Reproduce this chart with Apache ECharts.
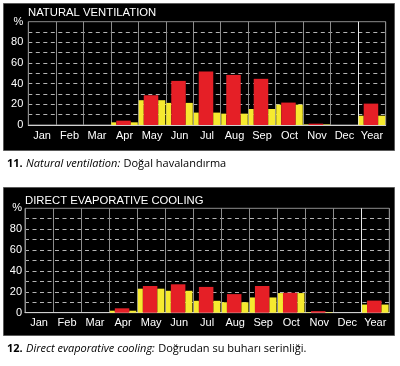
<!DOCTYPE html>
<html><head><meta charset="utf-8">
<script src="https://cdn.jsdelivr.net/npm/echarts@6/dist/echarts.min.js"></script>
<style>html,body{margin:0;padding:0;background:#fff}#c{width:400px;height:366px}</style>
</head><body><div id="c"></div>
<script>
const months = ['Jan','Feb','Mar','Apr','May','Jun','Jul','Aug','Sep','Oct','Nov','Dec','Year'];
const yTickLabels = {0:'0',20:'20',40:'40',60:'60',80:'80',100:'%'};

const nvYellowLeft  = [0,0,0,2.6,24,21.4,12,11,15.5,19.7,0.5,0,9];
const nvRed         = [0,0,0,4.2,28.8,42.7,51.8,48.5,44.7,21.7,1.3,0,20.7];
const nvYellowRight = [0,0,0,2.6,24,21.4,12,11,15.5,19.7,0.5,0,9];

const decYellowLeft  = [0,0,0,1.9,23,21,11.4,10,14.6,18.8,0.5,0,7.8];
const decRed         = [0,0,0,4.2,25.6,27.2,24.7,17.8,25.6,19.1,1.5,0,11.6];
const decYellowRight = [0,0,0,1.9,23,21,11.4,10,14.6,18.8,0.5,0,7.8];

const titles = ['NATURAL VENTILATION','DIRECT EVAPORATIVE COOLING'];

const RED = '#e51f26', YEL = '#f6ea2f';
const vColors = []; for (let i=0;i<14;i++) vColors.push(i===12 ? '#e8e8e8' : '#8c8c8c');

function xAx(g){
  return {type:'category', gridIndex:g, data:months, boundaryGap:true,
    axisLine:{show:true, lineStyle:{color:'#d0d0d0', width:1}},
    axisTick:{show:false},
    axisLabel:{color:'#fff', fontSize:11, fontFamily:'Liberation Sans, Arial, sans-serif', margin:5, interval:0},
    splitLine:{show:true, interval:0, lineStyle:{color:vColors, width:1}}};
}
function yAx(g, margin){
  return {type:'value', gridIndex:g, min:0, max:100, interval:10,
    axisLine:{show:false}, axisTick:{show:false},
    axisLabel:{color:'#fff', fontSize:11, fontFamily:'Liberation Sans, Arial, sans-serif', margin:margin,
      formatter:v => (yTickLabels[v] !== undefined ? yTickLabels[v] : '')},
    splitLine:{show:true, showMinLine:false, showMaxLine:false, lineStyle:{color:'#b4b4b4', type:[4,3.5], width:1}}};
}
function bars(g, yl, r, yr){
  return [
    {type:'bar', xAxisIndex:g, yAxisIndex:g, data:yl, barWidth:5, barGap:'0%', itemStyle:{color:YEL}, silent:true},
    {type:'bar', xAxisIndex:g, yAxisIndex:g, data:r, barWidth:14.5, barGap:'0%', itemStyle:{color:RED}, silent:true},
    {type:'bar', xAxisIndex:g, yAxisIndex:g, data:yr, barWidth:7, barGap:'0%', itemStyle:{color:YEL}, silent:true}
  ];
}
const capFont = '"Open Sans", "Noto Sans", sans-serif';
const rich = {
  b:{fontWeight:'bold', fontSize:11, fontFamily:capFont, color:'#231f20'},
  i:{fontStyle:'italic', fontSize:11, fontFamily:capFont, color:'#231f20'},
  n:{fontSize:11, fontFamily:capFont, color:'#231f20'}
};

const chart = echarts.init(document.getElementById('c'), null, {renderer:'canvas'});
chart.setOption({
  backgroundColor:'#ffffff',
  animation:false,
  grid:[
    {left:28.3, top:21.7, width:357.4, height:103.3, show:true, borderColor:'#8c8c8c', borderWidth:1, backgroundColor:'transparent'},
    {left:25, top:208.3, width:364.3, height:104.4, show:true, borderColor:'#8c8c8c', borderWidth:1, backgroundColor:'transparent'}
  ],
  xAxis:[xAx(0), xAx(1)],
  yAxis:[yAx(0,5), yAx(1,3)],
  series:[].concat(bars(0,nvYellowLeft,nvRed,nvYellowRight), bars(1,decYellowLeft,decRed,decYellowRight)),
  graphic:[
    {type:'rect', z:-10, shape:{x:3.5,y:3.5,width:391,height:147}, style:{fill:'#000', stroke:'#5a5a5a', lineWidth:1}},
    {type:'rect', z:-10, shape:{x:3.5,y:187.5,width:391,height:148}, style:{fill:'#000', stroke:'#5a5a5a', lineWidth:1}},
    {type:'text', x:28, y:12.5, style:{text:titles[0], fill:'#fff', font:'11.3px "Liberation Sans", Arial, sans-serif', textVerticalAlign:'middle', verticalAlign:'middle'}},
    {type:'text', x:25, y:200.5, style:{text:titles[1], fill:'#fff', font:'11.3px "Liberation Sans", Arial, sans-serif', textVerticalAlign:'middle', verticalAlign:'middle'}},
    {type:'text', x:7, y:164, style:{text:'{b|11.} {i|Natural ventilation:} {n|Doğal havalandırma}', rich:rich, textVerticalAlign:'middle', verticalAlign:'middle'}},
    {type:'text', x:7, y:348.5, style:{text:'{b|12.} {i|Direct evaporative cooling:} {n|Doğrudan su buharı serinliği.}', rich:rich, textVerticalAlign:'middle', verticalAlign:'middle'}}
  ]
});
</script></body></html>
